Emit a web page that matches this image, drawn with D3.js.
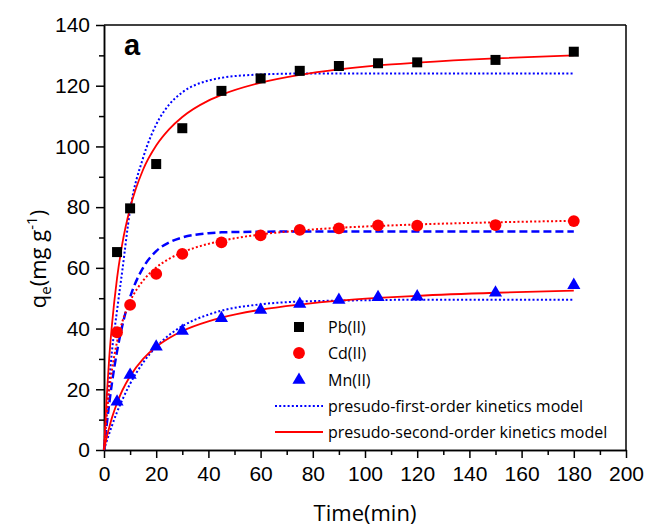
<!DOCTYPE html>
<html>
<head>
<meta charset="utf-8">
<script src="https://cdn.jsdelivr.net/npm/d3@7"></script>
<style>
  html, body { margin: 0; padding: 0; background: #fff; }
  svg { display: block; }
</style>
</head>
<body>
<svg id="chart" width="646" height="526"></svg>
<script>
// ---- data ----
const times = [5, 10, 20, 30, 45, 60, 75, 90, 105, 120, 150, 180];
const pbValues = [65.2, 79.6, 94.2, 106, 118.3, 122.4, 124.9, 126.5, 127.4, 127.7, 128.5, 131.2];
const cdValues = [38.8, 47.8, 58.0, 64.6, 68.4, 70.7, 72.5, 73.0, 74.0, 73.9, 74.1, 75.4];
const mnValues = [15.9, 24.7, 34.0, 39.2, 43.4, 46.1, 48.1, 49.4, 50.3, 50.5, 51.8, 54.3];

// model curves
const fitTimes = [0, 1, 2, 3, 5, 7, 10, 15, 20, 25, 30, 40, 45, 60, 75, 90, 105, 120, 150, 180];
const pbFirst  = [0, 11.8, 22.5, 32.1, 46, 59, 79, 96.3, 107.2, 113.8, 117.8, 121.7, 122.6, 123.7, 124, 124, 124, 124, 124, 124];
const pbSecond = [0, 17.0, 30.3, 40.8, 56.6, 67.9, 79.7, 92.4, 100.3, 105.7, 109.7, 115.1, 117.0, 121.0, 123.6, 125.4, 126.7, 127.6, 129.0, 130.0];
const cdFirst  = [0, 8.1, 15.3, 21.8, 32.5, 40.9, 50.3, 60.1, 65.5, 68.4, 70.0, 71.4, 71.7, 71.9, 72, 72, 72, 72, 72, 72];
const cdSecond = [0, 11.2, 19.6, 26.1, 35.6, 42.2, 48.9, 55.8, 60.1, 63.0, 65.1, 67.9, 68.9, 71.0, 72.3, 73.2, 73.8, 74.3, 75.0, 75.5];
const mnFirst  = [0, 2.8, 5.4, 7.9, 12.5, 16.5, 21.8, 28.8, 34.0, 37.9, 40.8, 44.6, 45.9, 48.0, 48.9, 49.2, 49.4, 49.5, 49.5, 49.5];
const mnSecond = [0, 4.0, 7.4, 10.5, 15.5, 19.6, 24.3, 30.0, 34.0, 36.9, 39.2, 42.4, 43.6, 46.2, 47.9, 49.2, 50.1, 50.8, 51.8, 52.5];

const xTicks = [0, 20, 40, 60, 80, 100, 120, 140, 160, 180, 200];
const xMinorTicks = [10, 30, 50, 70, 90, 110, 130, 150, 170, 190];
const yTicks = [0, 20, 40, 60, 80, 100, 120, 140];
const yMinorTicks = [10, 30, 50, 70, 90, 110, 130];

const legendLabels = ["Pb(II)", "Cd(II)", "Mn(II)", "presudo-first-order kinetics model", "presudo-second-order kinetics model"];

// ---- layout ----
const svg = d3.select("#chart");
const mLeft = 104, mRight = 626, mTop = 25, mBottom = 450;
const x = d3.scaleLinear().domain([0, 200]).range([mLeft, mRight]);
const y = d3.scaleLinear().domain([0, 140]).range([mBottom, mTop]);

const tickFont = "'Liberation Sans', Arial, sans-serif";
const textFont = "'Open Sans', 'Noto Sans', sans-serif";

// frame top/right
svg.append("line").attr("x1", mLeft).attr("x2", mRight).attr("y1", mTop).attr("y2", mTop)
  .attr("stroke", "#000").attr("stroke-width", 1.5);
svg.append("line").attr("x1", mRight).attr("x2", mRight).attr("y1", mTop).attr("y2", mBottom)
  .attr("stroke", "#000").attr("stroke-width", 1.5);

// axes
const xAxis = svg.append("g").attr("transform", `translate(0,${mBottom})`)
  .call(d3.axisBottom(x).tickValues(xTicks).tickSize(8).tickSizeOuter(0).tickPadding(8).tickFormat(d3.format("d")));
const xMinor = svg.append("g").attr("transform", `translate(0,${mBottom})`)
  .call(d3.axisBottom(x).tickValues(xMinorTicks).tickSize(5).tickSizeOuter(0).tickFormat(""));
const yAxis = svg.append("g").attr("transform", `translate(${mLeft},0)`)
  .call(d3.axisLeft(y).tickValues(yTicks).tickSize(8).tickSizeOuter(0).tickPadding(6).tickFormat(d3.format("d")));
const yMinor = svg.append("g").attr("transform", `translate(${mLeft},0)`)
  .call(d3.axisLeft(y).tickValues(yMinorTicks).tickSize(5).tickSizeOuter(0).tickFormat(""));

[xAxis, xMinor, yAxis, yMinor].forEach(g => {
  g.selectAll("path.domain").attr("stroke", "#000").attr("stroke-width", 1.5);
  g.selectAll(".tick line").attr("stroke", "#000").attr("stroke-width", 1.5);
  g.selectAll(".tick text").attr("font-family", tickFont).attr("font-size", 21).attr("fill", "#000");
});

// curves
const line = d3.line().x(d => x(d[0])).y(d => y(d[1])).curve(d3.curveMonotoneX);
const curves = [
  { vals: pbFirst,  color: "#0000ff", width: 2,   dash: "2,2.2" },
  { vals: cdFirst,  color: "#0000ff", width: 2.5, dash: "8,4" },
  { vals: mnFirst,  color: "#0000ff", width: 2,   dash: "2,2.2" },
  { vals: cdSecond, color: "#ff0000", width: 2,   dash: "2,2.2" },
  { vals: pbSecond, color: "#ff0000", width: 1.8, dash: null },
  { vals: mnSecond, color: "#ff0000", width: 1.8, dash: null }
];
curves.forEach(c => {
  svg.append("path")
    .datum(fitTimes.map((t, i) => [t, c.vals[i]]))
    .attr("d", line)
    .attr("fill", "none")
    .attr("stroke", c.color)
    .attr("stroke-width", c.width)
    .attr("stroke-dasharray", c.dash);
});

// markers
const sq = d3.symbol().type(d3.symbolSquare).size(100);
const ci = d3.symbol().type(d3.symbolCircle).size(110);
const tr = d3.symbol().type(d3.symbolTriangle).size(75);
const series = [
  { vals: pbValues, sym: sq, color: "#000" },
  { vals: cdValues, sym: ci, color: "#ff0000" },
  { vals: mnValues, sym: tr, color: "#0000ff" }
];
series.forEach(s => {
  svg.append("g").selectAll("path")
    .data(times.map((t, i) => [t, s.vals[i]]))
    .join("path")
    .attr("transform", d => `translate(${x(d[0])},${y(d[1])})`)
    .attr("d", s.sym)
    .attr("fill", s.color);
});

// legend
const legX = 299, legTextX = 328;
const legRows = [327, 353, 380, 406, 432];
const lg = svg.append("g");
series.forEach((s, i) => {
  lg.append("path").attr("transform", `translate(${legX},${legRows[i]})`).attr("d", s.sym).attr("fill", s.color);
});
lg.append("line").attr("x1", 275).attr("x2", 323).attr("y1", legRows[3]).attr("y2", legRows[3])
  .attr("stroke", "#0000ff").attr("stroke-width", 2).attr("stroke-dasharray", "2,2.2");
lg.append("line").attr("x1", 275).attr("x2", 323).attr("y1", legRows[4]).attr("y2", legRows[4])
  .attr("stroke", "#ff0000").attr("stroke-width", 1.8);
legendLabels.forEach((t, i) => {
  lg.append("text").attr("x", legTextX).attr("y", legRows[i]).attr("dy", "0.36em")
    .attr("font-family", textFont).attr("font-size", 16).attr("fill", "#000").text(t);
});

// panel label
svg.append("text").attr("x", 124).attr("y", 55).attr("font-family", tickFont)
  .attr("font-weight", "bold").attr("font-size", 29).attr("fill", "#000").text("a");

// axis titles
svg.append("text").attr("x", x(100)).attr("y", 521).attr("text-anchor", "middle")
  .attr("font-family", textFont).attr("font-size", 22).attr("fill", "#000").text("Time(min)");

const yt = svg.append("text").attr("transform", "translate(46,259) rotate(-90)")
  .attr("text-anchor", "middle").attr("font-family", textFont).attr("font-size", 22).attr("fill", "#000");
yt.append("tspan").text("q");
yt.append("tspan").attr("font-size", 15).attr("dy", 5).text("e");
yt.append("tspan").attr("dy", -5).text("(mg g");
yt.append("tspan").attr("font-size", 15).attr("dy", -9).text("-1");
yt.append("tspan").attr("dy", 9).text(")");
</script>
</body>
</html>
